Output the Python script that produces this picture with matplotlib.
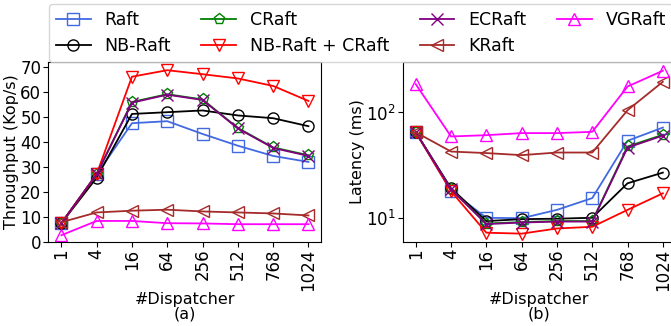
import matplotlib
matplotlib.use("Agg")
import matplotlib.pyplot as plt
import numpy as np

dispatchers = ["1", "4", "16", "64", "256", "512", "768", "1024"]

series_names = ["Raft", "NB-Raft", "CRaft", "NB-Raft + CRaft", "ECRaft", "KRaft", "VGRaft"]
colors = ["royalblue", "black", "green", "red", "purple", "brown", "magenta"]
markers = ["s", "o", "p", "v", "x", "<", "^"]

# Throughput (Kop/s)
thr_raft = [7.4, 26.9, 47.4, 48.2, 43.1, 38.4, 34.3, 31.9]
thr_nbraft = [7.4, 25.6, 51.1, 51.8, 52.5, 50.5, 49.4, 46.2]
thr_craft = [7.4, 27.0, 55.9, 59.0, 56.9, 45.5, 37.7, 34.6]
thr_nbcraft = [7.4, 27.0, 66.0, 68.6, 67.0, 65.3, 62.3, 56.3]
thr_ecraft = [7.4, 27.0, 55.6, 58.8, 56.7, 45.3, 37.5, 34.3]
thr_kraft = [7.8, 11.7, 12.4, 12.8, 12.1, 11.7, 11.3, 10.5]
thr_vgraft = [2.6, 8.3, 8.3, 7.4, 7.3, 7.0, 7.0, 7.0]

# Latency (ms)
lat_raft = [65, 18.1, 10.1, 10.0, 12.0, 15.5, 54, 72]
lat_nbraft = [65, 19.2, 9.4, 9.8, 9.9, 10.1, 21.4, 27]
lat_craft = [65, 18.8, 8.9, 9.2, 9.4, 9.4, 47.7, 61.5]
lat_nbcraft = [65, 18.0, 7.3, 7.15, 8.0, 8.3, 12.0, 17.2]
lat_ecraft = [65, 18.8, 8.8, 9.1, 9.3, 9.3, 46.5, 60.5]
lat_kraft = [65, 42.7, 41.3, 39.5, 41.8, 41.8, 105, 195]
lat_vgraft = [185, 59.3, 61, 63.8, 63.8, 65.6, 176, 248]

thr = [thr_raft, thr_nbraft, thr_craft, thr_nbcraft, thr_ecraft, thr_kraft, thr_vgraft]
lat = [lat_raft, lat_nbraft, lat_craft, lat_nbcraft, lat_ecraft, lat_kraft, lat_vgraft]

FS_TICK = 12.0
FS_LABEL = 11.5
FS_LEG = 12.5
plt.rcParams["font.family"] = "DejaVu Sans"

W, H = 671, 326
fig = plt.figure(figsize=(W / 100, H / 100), dpi=100)

def axpos(x0, x1, ytop, ybot):
    return [x0 / W, (H - ybot) / H, (x1 - x0) / W, (ybot - ytop) / H]

ax1 = fig.add_axes(axpos(48.3, 321.5, 61.7, 241.7))
ax2 = fig.add_axes(axpos(402.7, 675.9, 62.0, 241.7))

x = np.arange(len(dispatchers))
handles = []
for i, name in enumerate(series_names):
    h, = ax1.plot(x, thr[i], color=colors[i], marker=markers[i], mfc="none",
                  ms=8, lw=1.3, mew=1.0, label=name)
    handles.append(h)
    ax2.plot(x, lat[i], color=colors[i], marker=markers[i], mfc="none",
             ms=8, lw=1.3, mew=1.0)

ax1.set_ylim(0, 72)
ax1.set_yticks([0, 10, 20, 30, 40, 50, 60, 70])
ax1.set_ylabel("Throughput (Kop/s)", fontsize=FS_LABEL, labelpad=1)
ax1.set_xlabel("#Dispatcher\n(a)", fontsize=FS_LABEL, labelpad=1, linespacing=0.95)

ax2.set_yscale("log")
ax2.set_ylim(6, 300)
ax2.minorticks_off()
ax2.set_ylabel("Latency (ms)", fontsize=FS_LABEL, labelpad=1)
ax2.set_xlabel("#Dispatcher\n(b)", fontsize=FS_LABEL, labelpad=1, linespacing=0.95)

for ax in (ax1, ax2):
    ax.set_xticks(x)
    ax.set_xticklabels(dispatchers, rotation=90)
    ax.set_xlim(-0.37, 7.37)
    ax.tick_params(labelsize=FS_TICK, pad=1.5)

leg = fig.legend(handles=handles, labels=series_names, ncol=4, loc="upper left",
                 bbox_to_anchor=(49 / W, 1 - 4 / H), fontsize=FS_LEG,
                 handlelength=2.0, handletextpad=0.8, columnspacing=1.75,
                 borderaxespad=0, labelspacing=0.45,
                 frameon=True, fancybox=True)

fig.savefig("out.png", dpi=100)
